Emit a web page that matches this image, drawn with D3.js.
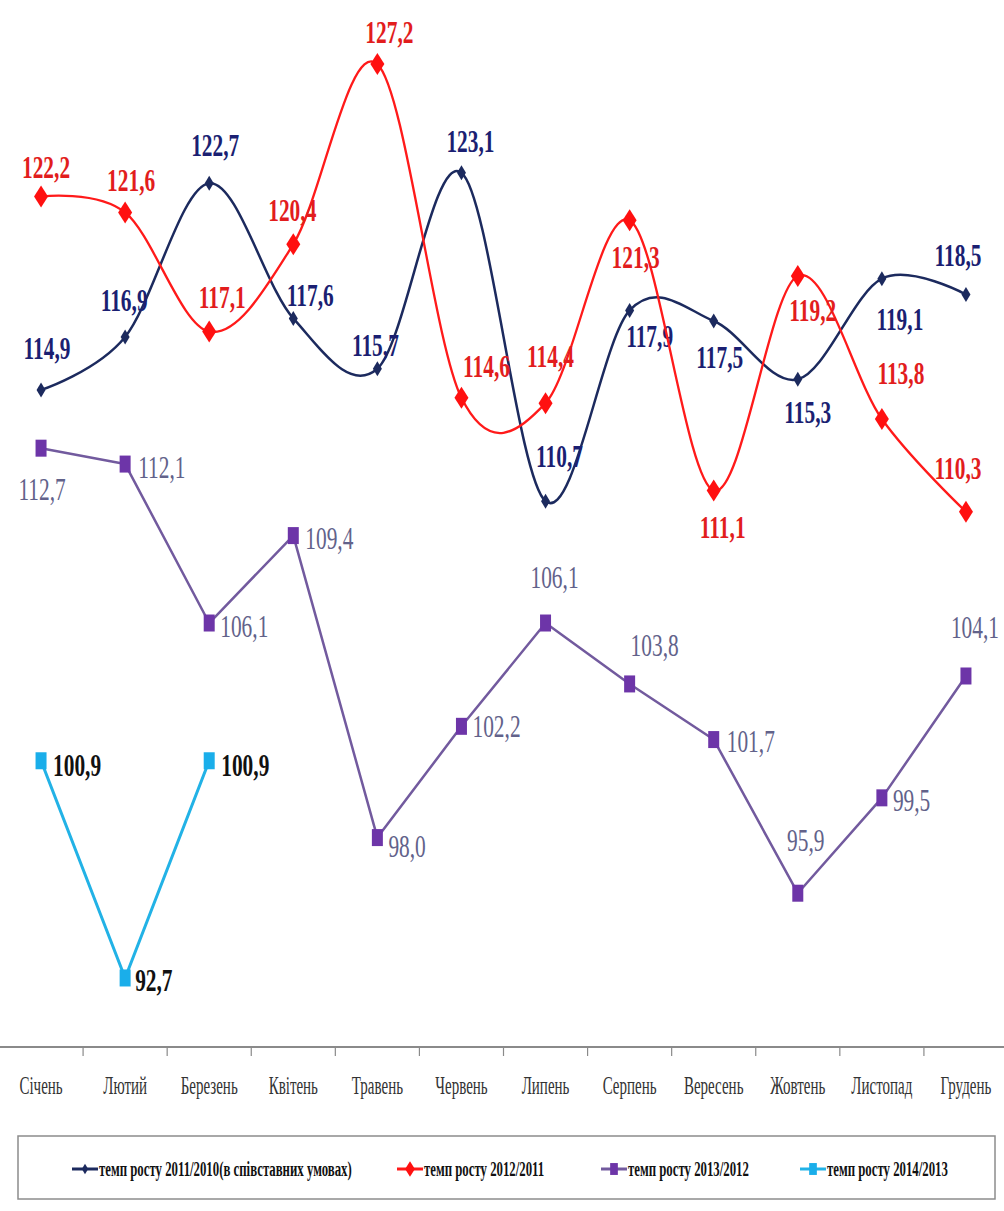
<!DOCTYPE html>
<html>
<head>
<meta charset="utf-8">
<script src="https://cdnjs.cloudflare.com/ajax/libs/d3/7.8.5/d3.min.js"></script>
<style>
  body { margin: 0; background: #fff; }
  svg { display: block; }
  text { font-family: "Liberation Serif", "Times New Roman", serif; }
</style>
</head>
<body>
<div id="chart"></div>
<script>
// months on the category axis
let months = ["Січень", "Лютий", "Березень", "Квітень", "Травень", "Червень",
              "Липень", "Серпень", "Вересень", "Жовтень", "Листопад", "Грудень"];

// growth rates, %
let rate2011 = [114.9, 116.9, 122.7, 117.6, 115.7, 123.1, 110.7, 117.9, 117.5, 115.3, 119.1, 118.5];
let rate2012 = [122.2, 121.6, 117.1, 120.4, 127.2, 114.6, 114.4, 121.3, 111.1, 119.2, 113.8, 110.3];
let rate2013 = [112.7, 112.1, 106.1, 109.4, 98.0, 102.2, 106.1, 103.8, 101.7, 95.9, 99.5, 104.1];
let rate2014 = [100.9, 92.7, 100.9];

let seriesNames = ["темп росту 2011/2010(в співставних умовах)", "темп росту 2012/2011",
                   "темп росту 2013/2012", "темп росту 2014/2013"];

// label offsets from the point: [dx, dy, anchor]
let off2011 = [[6,-42],[-1,-37],[6,-38],[17,-23],[-2,-24],[9,-32],[14,-45],[20,26],[6,36],[10,33],[18,41],[-8,-39]];
let off2012 = [[5,-29],[6,-32],[13,-34],[-1,-34],[12,-32],[25,-32],[5,-47],[6,37],[9,37],[15,34],[19,-46],[-8,-44]];
let off2013 = [[1,41],[13,3,"start"],[11,3,"start"],[12,3,"start"],[11,9,"start"],[11,0,"start"],
               [9,-46],[25,-39],[13,2,"start"],[8,-53],[11,2,"start"],[9,-49]];
let off2014 = [[12,4,"start"],[10,2,"start"],[12,4,"start"]];

let W = 1004, H = 1211;
let axisY = 1047;

let svg = d3.select("#chart").append("svg")
  .attr("width", W)
  .attr("height", H);

let x = d3.scaleBand().domain(months).range([-1, 1008]);
let y = d3.scaleLinear().domain([90, 130]).range([1049.5, -10.1]);
let cx = m => x(m) + x.bandwidth() / 2;

let fmt = v => v.toFixed(1).replace(".", ",");

// condensed look of the original: squeeze text horizontally
function squeezed(g, tx, ty, str, opt) {
  return g.append("text")
    .attr("transform", "translate(" + tx + "," + ty + ") scale(" + (opt.sx || 0.66) + ",1)")
    .attr("text-anchor", opt.anchor || "middle")
    .attr("dy", "0.35em")
    .attr("font-size", opt.size)
    .attr("font-weight", opt.weight || "normal")
    .attr("fill", opt.color)
    .text(str);
}

function diamond(w, h) {
  return "M0," + (-h / 2) + "L" + (w / 2) + ",0L0," + (h / 2) + "L" + (-w / 2) + ",0Z";
}
function square(w, h) {
  return "M" + (-w / 2) + "," + (-h / 2) + "h" + w + "v" + h + "h" + (-w) + "Z";
}

let series = [
  { name: seriesNames[0], values: rate2011, offs: off2011, line: "#1c2a5e", marker: "#1c2a5e",
    shape: diamond(9, 15), width: 2.5, curve: d3.curveCatmullRom.alpha(0), label: "#1b1f72", weight: "bold" },
  { name: seriesNames[1], values: rate2012, offs: off2012, line: "#ff1a1a", marker: "#ff1010",
    shape: diamond(14, 22), width: 2.3, curve: d3.curveCatmullRom.alpha(0), label: "#e21d1d", weight: "bold" },
  { name: seriesNames[2], values: rate2013, offs: off2013, line: "#725a9e", marker: "#6d35a8",
    shape: square(11, 17), width: 2.5, curve: d3.curveLinear, label: "#62628a", weight: "normal" },
  { name: seriesNames[3], values: rate2014, offs: off2014, line: "#22b2e6", marker: "#1aaeea",
    shape: square(11, 17), width: 3, curve: d3.curveLinear, label: "#111", weight: "bold" }
];

// category axis
let axis = svg.append("g").attr("transform", "translate(0," + axisY + ")");
axis.append("line").attr("x1", 0).attr("x2", W).attr("stroke", "#8a8a8a").attr("stroke-width", 2);
axis.selectAll(".tick")
  .data(months.slice(1))
  .enter().append("line")
  .attr("x1", d => x(d)).attr("x2", d => x(d))
  .attr("y1", 0).attr("y2", 9)
  .attr("stroke", "#8a8a8a").attr("stroke-width", 1.2);
months.forEach(m => {
  squeezed(axis, cx(m), 38, m, { size: 25, sx: 0.6, color: "#333" });
});

// lines, markers, labels
let plot = svg.append("g");
series.forEach(s => {
  let pts = s.values.map((v, i) => [cx(months[i]), y(v)]);
  plot.append("path")
    .attr("d", d3.line().curve(s.curve)(pts))
    .attr("fill", "none")
    .attr("stroke", s.line)
    .attr("stroke-width", s.width)
    .attr("stroke-linejoin", "round");
  plot.selectAll(null)
    .data(pts)
    .enter().append("path")
    .attr("d", s.shape)
    .attr("transform", d => "translate(" + d[0] + "," + d[1] + ")")
    .attr("fill", s.marker);
  s.values.forEach((v, i) => {
    let o = s.offs[i];
    squeezed(plot, pts[i][0] + o[0], pts[i][1] + o[1], fmt(v),
      { size: 31, sx: 0.69, anchor: o[2] || "middle", color: s.label, weight: s.weight });
  });
});

// legend
let legendX = [72, 397, 601, 800];
let legend = svg.append("g");
legend.append("rect")
  .attr("x", 18).attr("y", 1136).attr("width", 977).attr("height", 63)
  .attr("fill", "#fff").attr("stroke", "#8c8c8c").attr("stroke-width", 1.5);
series.forEach((s, i) => {
  let g = legend.append("g").attr("transform", "translate(" + legendX[i] + ",1169)");
  g.append("line").attr("x1", 0).attr("x2", 26)
    .attr("stroke", s.line).attr("stroke-width", 3);
  g.append("path").attr("d", s.shape).attr("transform", "translate(13,0) scale(0.7)").attr("fill", s.marker);
  squeezed(g, 27, 0, s.name, { size: 20, sx: 0.64, anchor: "start", color: "#111", weight: "bold" });
});
</script>
</body>
</html>
